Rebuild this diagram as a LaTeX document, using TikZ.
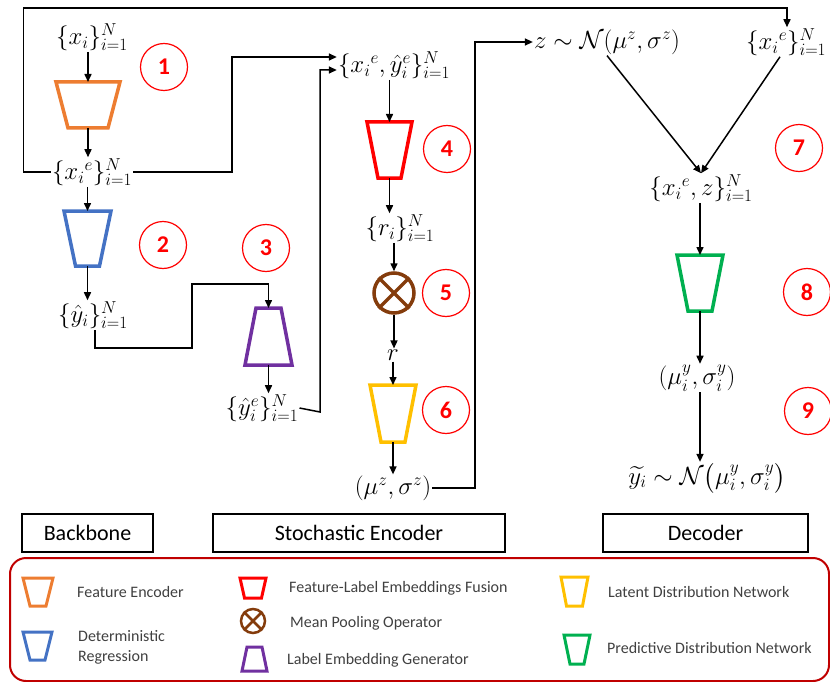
\documentclass[tikz,border=0pt]{standalone}
\usepackage[no-math]{fontspec}
\setmainfont{Carlito}
\usepackage{amsmath}
\usetikzlibrary{arrows.meta}
\definecolor{corange}{HTML}{ED7D31}
\definecolor{cblue}{HTML}{4472C4}
\definecolor{cpurple}{HTML}{7030A0}
\definecolor{cred}{HTML}{FF0000}
\definecolor{cbrown}{HTML}{843C0C}
\definecolor{cyellow}{HTML}{FFC000}
\definecolor{cgreen}{HTML}{00B050}
\definecolor{legred}{HTML}{C00000}
\definecolor{legtext}{HTML}{404040}
% #1 line width, #2 name, #3 colour, #4 cx, #5 ytop, #6 half top, #7 ybot, #8 half bottom
\newcommand\trapz[8][3.5pt]{%
  \draw[color=#3, line width=#1, line join=miter] (#4-#6,#5) -- (#4+#6,#5) -- (#4+#8,#7) -- (#4-#8,#7) -- cycle;
  \coordinate (#2t) at (#4,#5); \coordinate (#2b) at (#4,#7);}
\begin{document}
\begin{tikzpicture}[x=1pt,y=-1pt,
  conn/.style={line width=1.5pt, -{Triangle[length=8pt,width=7pt]}},
  mth/.style={font=\fontsize{23.5}{26}\selectfont, inner sep=1pt},
  num/.style={circle, draw=cred, line width=1.2pt, minimum size=47pt, inner sep=0pt, text=cred, font=\fontsize{24}{26}\selectfont\bfseries},
  lbl/.style={draw, line width=1.5pt, minimum height=38pt, inner sep=0pt, font=\fontsize{22}{24}\selectfont},
  leg/.style={font=\fontsize{16}{20}\selectfont, text=legtext, anchor=west, inner sep=0pt, align=left}
]
\useasboundingbox (0,0) rectangle (830,682);

% ---- math nodes
\node[mth] (xi)   at (92,37)  {$\{x_i\}_{i=1}^N$};
\node[mth] (xeL)  at (92,172) {$\{x_i{}^e\}_{i=1}^N$};
\node[mth] (yhat) at (93,315) {$\{\hat{y}_i\}_{i=1}^N$};
\node[mth] (yhe)  at (262,408) {$\{\hat{y}_i^e\}_{i=1}^N$};
\node[mth] (xy)   at (394,65) {$\{x_i{}^e,\hat{y}_i^e\}_{i=1}^N$};
\node[mth] (ri)   at (400,228) {$\{r_i\}_{i=1}^N$};
\node[mth] (r)    at (393,355) {$r$};
\node[mth] (muz)  at (393,488) {$(\mu^z,\sigma^z)$};
\node[mth] (z)    at (607,42) {$z\sim\mathcal{N}(\mu^z,\sigma^z)$};
\node[mth, anchor=west] (xeR) at (745,42) {$\{x_i{}^e\}_{i=1}^N$};
\node[mth] (xez)  at (701,188) {$\{x_i{}^e,z\}_{i=1}^N$};
\node[mth] (muy)  at (697,378) {$(\mu_i^y,\sigma_i^y)$};
\node[mth] (ytil) at (707,478) {$\widetilde{y_i}\sim\mathcal{N}\bigl(\mu_i^y,\sigma_i^y\bigr)$};

% ---- trapezoids
\trapz{enc}{corange}{88}{82}{32}{128}{20}
\trapz{reg}{cblue}{87.5}{211}{23.5}{266}{12}
\trapz{gen}{cpurple}{268.5}{308}{12.5}{365}{23.5}
\trapz{fus}{cred}{389.5}{122}{22.5}{178}{11.5}
\trapz{lat}{cyellow}{393}{385}{23}{442}{12}
\trapz{pred}{cgreen}{700}{255}{23}{311}{12}

\node[circle, draw=cbrown, line width=3.5pt, minimum size=40pt, inner sep=0pt] (pool) at (394,293) {};
\draw[cbrown, line width=3.5pt] (pool.north west) -- (pool.south east) (pool.north east) -- (pool.south west);

% ---- numbered circles
\node[num] (n1) at (164,67) {1};
\node[num] (n2) at (163,245) {2};
\node[num] (n3) at (266,248) {3};
\node[num] (n4) at (447,149) {4};
\node[num] (n5) at (446,293) {5};
\node[num] (n6) at (446,410) {6};
\node[num] (n7) at (799,148) {7};
\node[num] (n8) at (807,292) {8};
\node[num] (n9) at (808,411) {9};

% ---- connectors
\draw[conn] (enct |- xi.south) -- (enct);
\draw[conn] (encb) -- (encb |- xeL.north);
\draw[conn] (regt |- xeL.south) -- (regt);
\draw[conn] (regb) -- (regb |- yhat.north);
\draw[conn] ([xshift=2pt]yhat.south) -- ++(0,18) -| (192,284) -| (gent);
\draw[conn] (genb) -- (genb |- yhe.north);
\draw[conn] (yhe.east) -- (320,412) |- ([yshift=-5pt]xy.west);
\draw[conn] (xeL.east) -| (232,57) -- ([yshift=8pt]xy.west);
\draw[conn] (xeL.west) -| (23.7,8) -| ([xshift=42pt]xeR.north west);
\draw[conn] (fust |- xy.south) -- (fust);
\draw[conn] (fusb) -- (fusb |- ri.north);
\draw[conn] (pool.north |- ri.south) -- (pool.north);
\draw[conn] (pool.south) -- (pool.south |- r.north);
\draw[conn] (latt |- r.south) -- (latt);
\draw[conn] (latb) -- (latb |- muz.north);
\draw[conn] (muz.east) -| (475,42) -- (z.west);
\draw[conn] (z.south) -- (xez.north);
\draw[conn] ([xshift=35pt]xeR.south west) -- (xez.north);
\draw[conn] (predt |- xez.south) -- (predt);
\draw[conn] (predb) -- (predb |- muy.north);
\draw[conn] (muy.south -| predb) -- (predb |- ytil.north);

% ---- section labels
\node[lbl, minimum width=131pt] (bb) at (87.5,533) {Backbone};
\node[lbl, minimum width=292pt] (se) at (359,533) {Stochastic Encoder};
\node[lbl, minimum width=205pt] (de) at (705.5,533) {Decoder};

% ---- legend
\draw[legred, line width=2pt, rounded corners=16pt] (10,558) rectangle (829,681);
\trapz[3pt]{lenc}{corange}{38}{578}{15}{606}{8}
\trapz[3pt]{lreg}{cblue}{37.5}{632}{14.5}{660}{7.5}
\trapz[3pt]{lfus}{cred}{253}{578}{13}{598}{8.5}
\trapz[3pt]{lgen}{cpurple}{254.5}{647}{7.5}{671}{12.5}
\trapz[3pt]{llat}{cyellow}{574.5}{577}{13.5}{606}{8}
\trapz[3pt]{lpred}{cgreen}{577}{635}{13}{664}{7}
\node[circle, draw=cbrown, line width=2.5pt, minimum size=24pt, inner sep=0pt] (lpool) at (253,621) {};
\draw[cbrown, line width=2.5pt] (lpool.north west) -- (lpool.south east) (lpool.north east) -- (lpool.south west);

\node[leg] (t1) at (77,592) {Feature Encoder};
\node[leg] (t2) at (78,647) {Deterministic\\Regression};
\node[leg] (t3) at (289,588) {Feature-Label Embeddings Fusion};
\node[leg] (t4) at (290,623) {Mean Pooling Operator};
\node[leg] (t5) at (287,660) {Label Embedding Generator};
\node[leg] (t6) at (608,592) {Latent Distribution Network};
\node[leg] (t7) at (607,648) {Predictive Distribution Network};
\end{tikzpicture}
\end{document}
